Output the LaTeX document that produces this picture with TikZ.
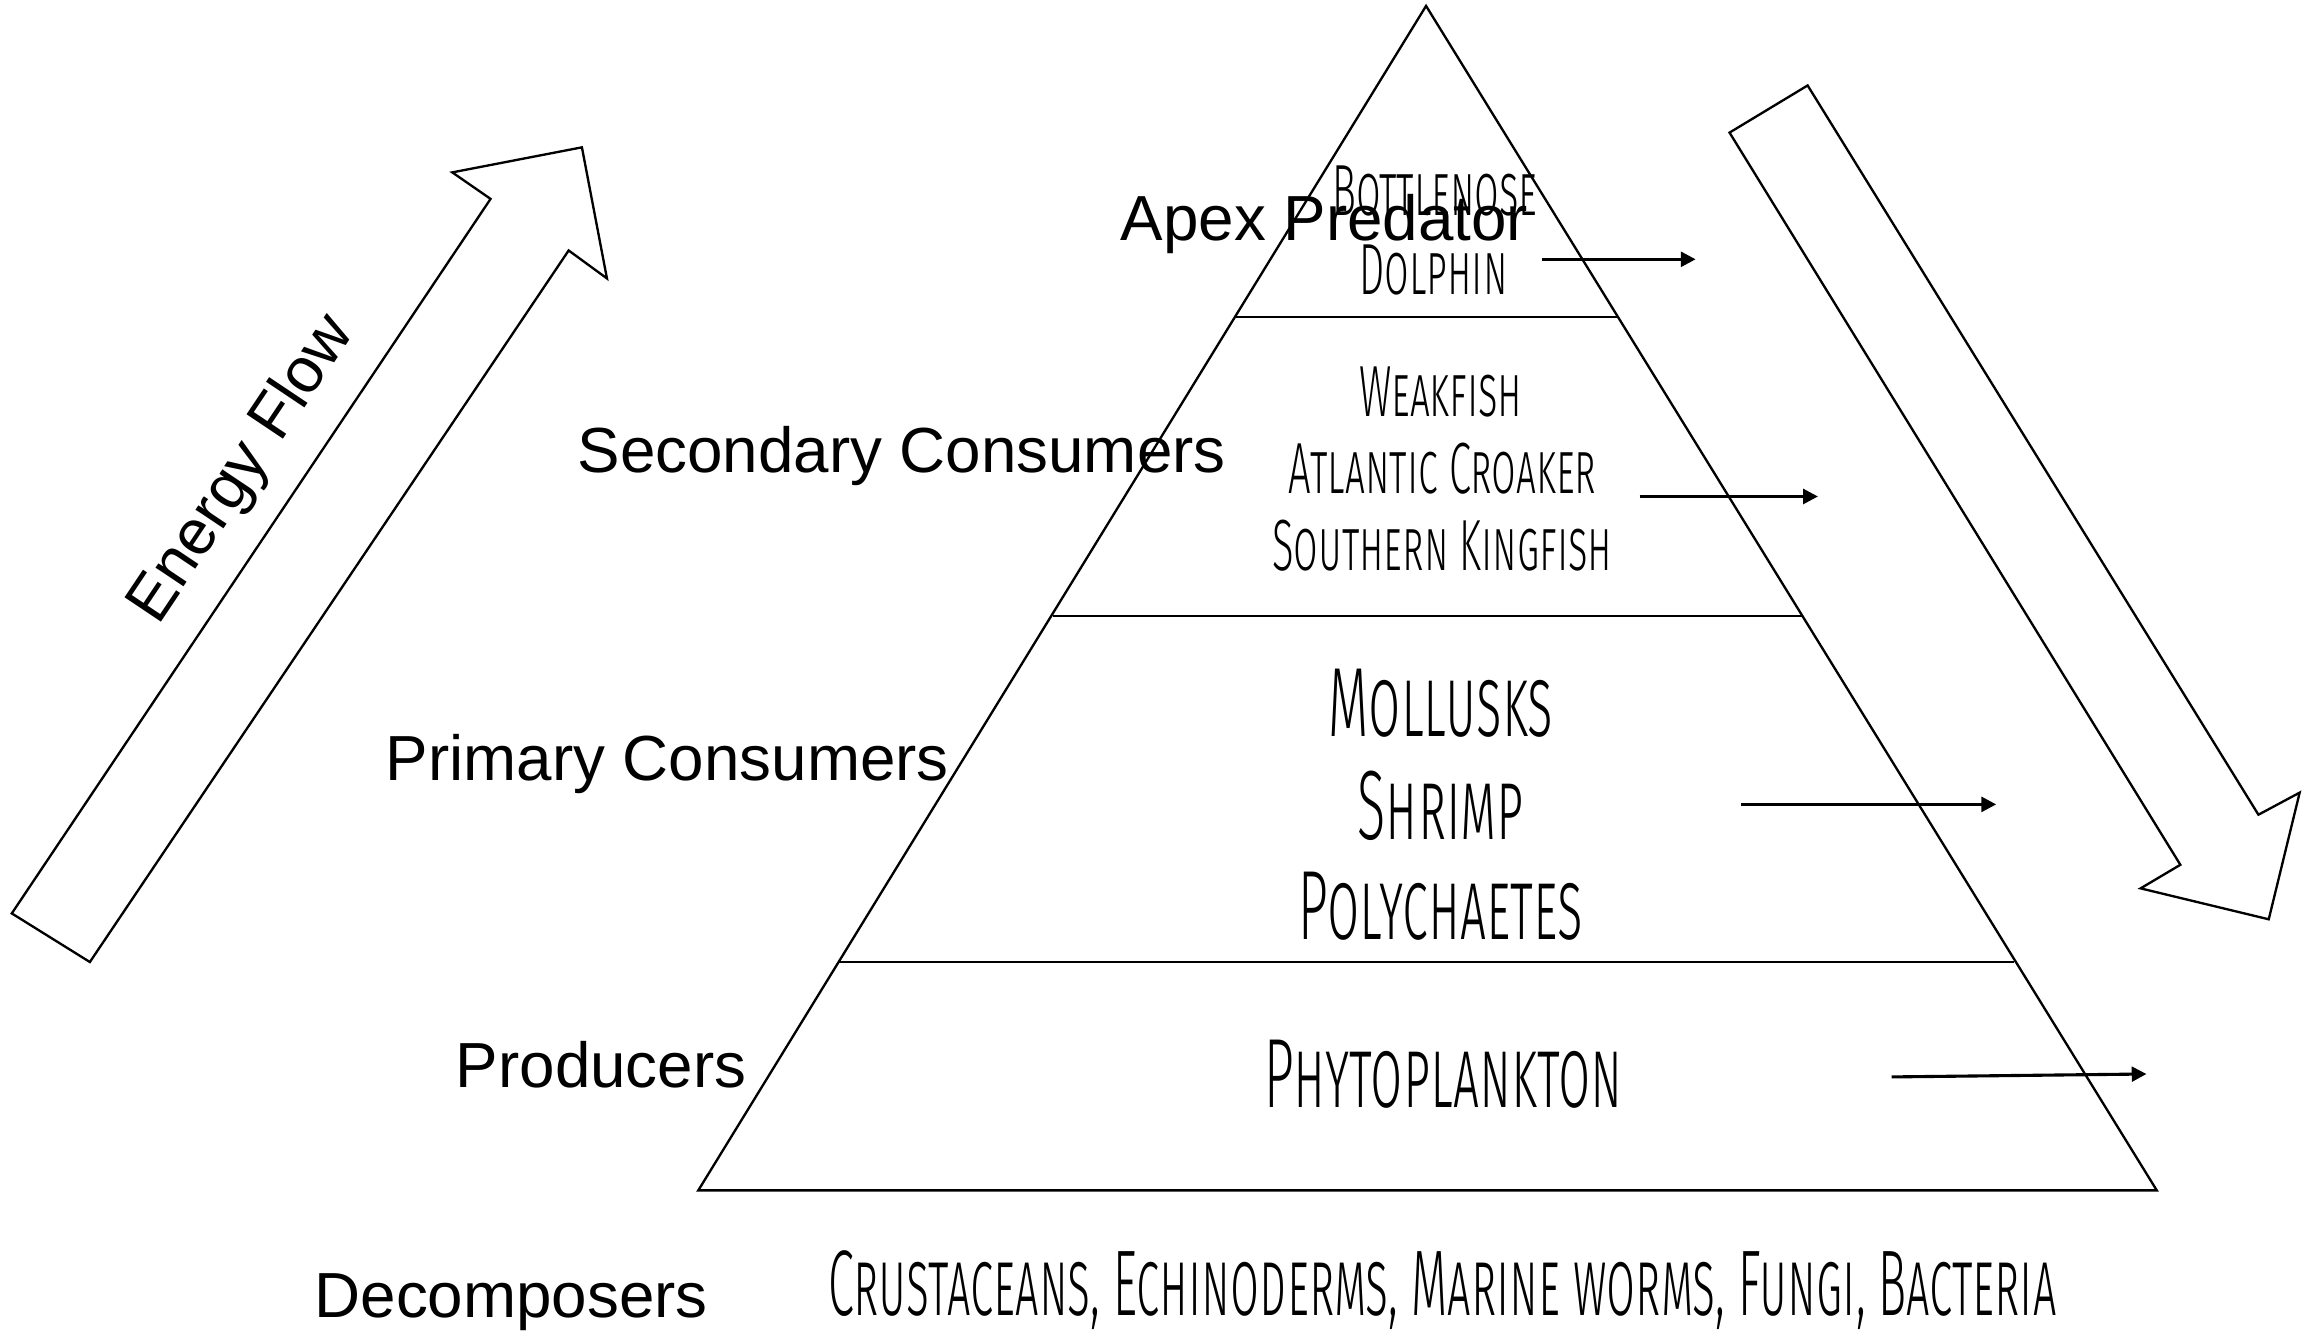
\documentclass[tikz,border=0pt]{standalone}
\usepackage{fontspec}
\usetikzlibrary{arrows.meta}

\newfontfamily\labelfont{Liberation Sans}
\newfontfamily\namefont[FakeStretch=0.55,Letters=SmallCaps]{Fira Sans Light}
\newfontfamily\bignamefont[FakeStretch=0.53,Letters=SmallCaps]{Fira Sans Light}
\newfontfamily\listfont[FakeStretch=0.503,Letters=SmallCaps]{Fira Sans Light}

\tikzset{
  level/.style={font=\labelfont\fontsize{12.3}{14}\selectfont, anchor=base, inner sep=0pt},
  taxon/.style={font=\namefont\fontsize{14}{16}\selectfont, anchor=base, inner sep=0pt},
  bigtaxon/.style={font=\bignamefont\fontsize{19}{21}\selectfont, anchor=base, inner sep=0pt},
  listtaxon/.style={font=\listfont\fontsize{18}{21}\selectfont, anchor=base, inner sep=0pt},
  feed/.style={-{Triangle[length=1mm,width=1mm]}, line width=0.6pt},
}

\begin{document}
\begin{tikzpicture}[x=0.01cm, y=-0.01cm, line width=0.45pt]
\useasboundingbox (0,0) rectangle (1568,905);

%% pyramid
    \coordinate (top) at (968, 4);
    \coordinate (bl)  at (474, 808);
    \coordinate (br)  at (1464, 808);
    \coordinate (l1)  at (838, 215);
    \coordinate (r1)  at (1099, 215);
    \coordinate (l2)  at (715, 418);
    \coordinate (r2)  at (1223, 418);
    \coordinate (l3)  at (569, 653);
    \coordinate (r3)  at (1367, 653);

    \draw (top) -- (bl) -- (br) -- cycle;
    \draw (l1) -- (r1);
    \draw (l2) -- (r2);
    \draw (l3) -- (r3);

%% energy flow, up
    \draw (8, 620) -- (333, 135) -- (307, 117) -- (395, 100)
          -- (412, 189) -- (386, 170) -- (61, 653) -- cycle;

%% energy flow, down
    \draw (1227, 58) -- (1533, 553) -- (1561, 538) -- (1540, 624)
          -- (1453, 603) -- (1480, 587) -- (1174, 90) -- cycle;

%%   kw   (name)   (x, y)   {text}
    \node[level] (apex)  at (899, 163)  {Apex Predator};
    \node[level] (sec)   at (612, 321)  {Secondary Consumers};
    \node[level] (prim)  at (453, 530)  {Primary Consumers};
    \node[level] (prod)  at (408, 738)  {Producers};
    \node[level] (dec)   at (347, 894)  {Decomposers};
    \node[level, anchor=center, rotate=56.2] (flow) at (165, 319) {Energy Flow};

    \node[taxon] (t1a) at (974, 146)  {Bottlenose};
    \node[taxon] (t1b) at (973, 200)  {Dolphin};
    \node[taxon] (t2a) at (978, 283)  {Weakfish};
    \node[taxon] (t2b) at (979, 335)  {Atlantic Croaker};
    \node[taxon] (t2c) at (979, 387)  {Southern Kingfish};
    \node[bigtaxon] (t3a) at (978, 500)  {Mollusks};
    \node[bigtaxon] (t3b) at (978, 570)  {Shrimp};
    \node[bigtaxon] (t3c) at (978, 638)  {Polychaetes};
    \node[bigtaxon] (t4)  at (980, 752)  {Phytoplankton};
    \node[listtaxon] (t5) at (979, 893)  {Crustaceans, Echinoderms, Marine worms, Fungi, Bacteria};

    \coordinate (f1) at (1047, 176);
    \coordinate (e1) at (1151, 176);
    \coordinate (f2) at (1113, 337);
    \coordinate (e2) at (1234, 337);
    \coordinate (f3) at (1182, 546);
    \coordinate (e3) at (1355, 546);
    \coordinate (f4) at (1284, 731);
    \coordinate (e4) at (1457, 729);

    \draw[feed] (f1) -- (e1);
    \draw[feed] (f2) -- (e2);
    \draw[feed] (f3) -- (e3);
    \draw[feed] (f4) -- (e4);
\end{tikzpicture}
\end{document}
